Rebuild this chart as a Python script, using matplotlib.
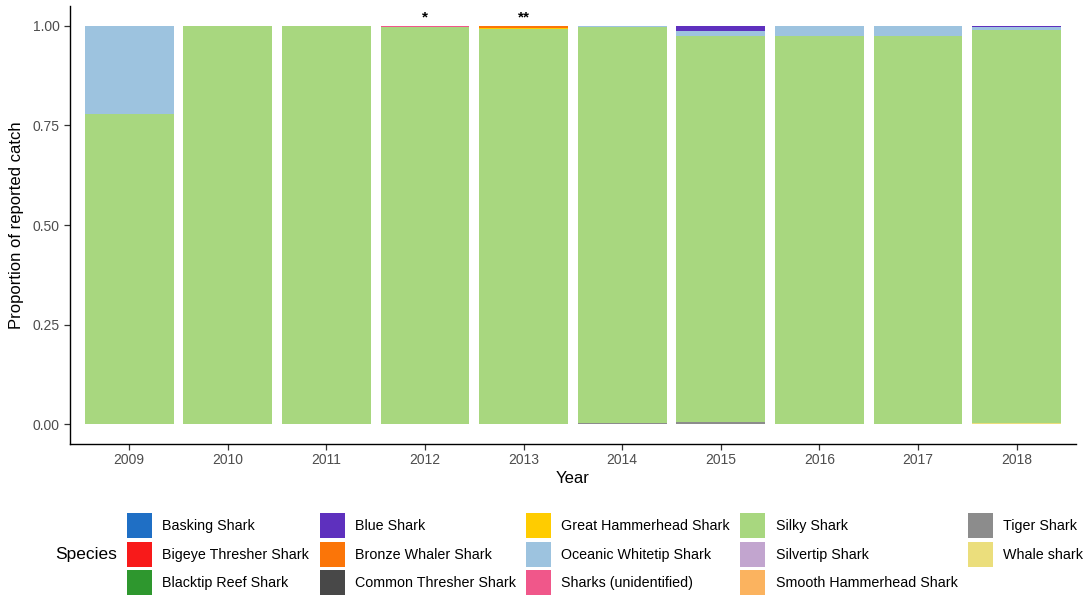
import numpy as np
import matplotlib.pyplot as plt
from matplotlib.patches import Patch

plt.rcParams['font.family'] = ['Liberation Sans', 'DejaVu Sans']

years = ['2009', '2010', '2011', '2012', '2013', '2014', '2015', '2016', '2017', '2018']

species = ['Basking Shark', 'Bigeye Thresher Shark', 'Blacktip Reef Shark',
           'Blue Shark', 'Bronze Whaler Shark', 'Common Thresher Shark',
           'Great Hammerhead Shark', 'Oceanic Whitetip Shark', 'Sharks (unidentified)',
           'Silky Shark', 'Silvertip Shark', 'Smooth Hammerhead Shark',
           'Tiger Shark', 'Whale shark']

colors = ['#1F6FC5', '#F81A1A', '#2E972E',
          '#5E30BE', '#FB7508', '#484848',
          '#FFCC00', '#9DC3DF', '#F0578A',
          '#A8D77F', '#C2A5CF', '#FBB35F',
          '#8C8C8C', '#EBDE7C']

# proportion of catch per species, one value per year
basking      = [0, 0, 0, 0, 0, 0, 0, 0, 0, 0]
bigeye       = [0, 0, 0, 0, 0, 0, 0, 0, 0, 0]
blacktip     = [0, 0, 0, 0, 0.001, 0, 0, 0, 0, 0]
blue         = [0, 0, 0, 0, 0, 0, 0.012, 0, 0, 0.004]
bronze       = [0, 0, 0, 0, 0.004, 0, 0, 0, 0, 0]
common       = [0, 0, 0, 0, 0, 0, 0, 0, 0, 0]
great_hh     = [0, 0, 0, 0, 0.003, 0, 0, 0, 0, 0]
oceanic      = [0.22, 0, 0, 0, 0, 0.003, 0.013, 0.025, 0.025, 0.007]
unidentified = [0, 0, 0, 0.004, 0, 0, 0, 0, 0, 0]
silky        = [0.78, 1.0, 1.0, 0.996, 0.992, 0.994, 0.970, 0.975, 0.975, 0.986]
silvertip    = [0, 0, 0, 0, 0, 0, 0, 0, 0, 0]
smooth_hh    = [0, 0, 0, 0, 0, 0, 0, 0, 0, 0]
tiger        = [0, 0, 0, 0, 0, 0.003, 0.005, 0, 0, 0]
whale        = [0, 0, 0, 0, 0, 0, 0, 0, 0, 0.003]

values = [basking, bigeye, blacktip, blue, bronze, common, great_hh, oceanic,
          unidentified, silky, silvertip, smooth_hh, tiger, whale]

fig = plt.figure(figsize=(10.86, 5.97), dpi=100)
ax = fig.add_axes([0.0645, 0.256, 0.926, 0.734])

x = np.arange(1, len(years) + 1)
bottom = np.zeros(len(years))
# last level sits at the bottom of each stack
for name, col, vals in zip(species[::-1], colors[::-1], values[::-1]):
    vals = np.array(vals, dtype=float)
    ax.bar(x, vals, width=0.9, bottom=bottom, color=col, linewidth=0)
    bottom += vals

ax.text(4, 1.003, '*', ha='center', va='bottom', fontsize=11, fontweight='bold')
ax.text(5, 1.003, '**', ha='center', va='bottom', fontsize=11, fontweight='bold')

ax.set_xlim(0.4, 10.6)
ax.set_ylim(-0.05, 1.05)
ax.set_xticks(x)
ax.set_xticklabels(years)
ax.set_yticks([0, 0.25, 0.5, 0.75, 1.0])
ax.set_yticklabels(['0.00', '0.25', '0.50', '0.75', '1.00'])
ax.tick_params(colors='#333333', labelcolor='#4D4D4D', labelsize=10, length=4, width=0.9)
ax.tick_params(axis='x', pad=2.5)
for side in ['top', 'right']:
    ax.spines[side].set_visible(False)
for side in ['left', 'bottom']:
    ax.spines[side].set_linewidth(1.0)
ax.set_xlabel('Year', fontsize=12, labelpad=3)
ax.set_ylabel('Proportion of reported catch', fontsize=12, labelpad=6)

handles = [Patch(facecolor=c, edgecolor='none') for c in colors]
fig.legend(handles, species, loc='upper left', bbox_to_anchor=(127 / 1086, 1 - 513 / 597),
           ncol=5, frameon=False, fontsize=10.3, handlelength=1.75, handleheight=2.35,
           handletextpad=0.72, labelspacing=0.22, columnspacing=0.72,
           borderpad=0, borderaxespad=0)
fig.text(55 / 1086, 1 - 554 / 597, 'Species', fontsize=12.5, ha='left', va='center')

fig.savefig('out.png', dpi=100)
